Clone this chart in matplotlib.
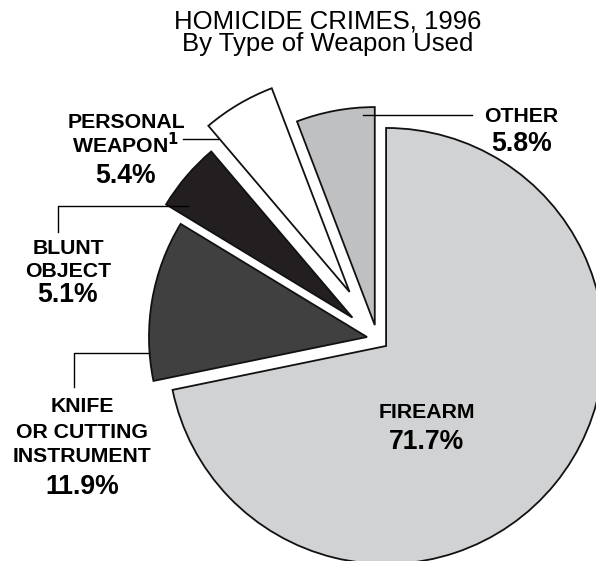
import matplotlib
matplotlib.use("Agg")
import matplotlib.pyplot as plt

# Data (counterclockwise from 12 o'clock)
categories = ["OTHER", "PERSONAL WEAPON", "BLUNT OBJECT", "KNIFE OR CUTTING INSTRUMENT", "FIREARM"]
values = [5.8, 5.4, 5.1, 11.9, 71.7]
explode_frac = [0.064, 0.25, 0.15, 0.048, 0.052]
colors = ["#bfc0c2", "#ffffff", "#231f20", "#404040", "#d1d2d4"]

W, H = 596, 561
fig = plt.figure(figsize=(W / 100, H / 100), dpi=100)
ax = fig.add_axes([0, 0, 1, 1])

cx, cy = 377.3, H - 338.8
R = 218
ax.pie(values, explode=[e * R for e in explode_frac], colors=colors, startangle=90,
       counterclock=True, center=(cx, cy), radius=R,
       wedgeprops=dict(edgecolor="#111111", linewidth=1.3), normalize=True)
ax.set_xlim(0, W)
ax.set_ylim(0, H)
ax.set_aspect("equal")
ax.axis("off")

def Y(y):
    return H - y

fam = ["Liberation Sans", "DejaVu Sans"]
# Title
ax.text(327.5, Y(21), "HOMICIDE CRIMES, 1996", ha="center", va="center",
        fontsize=18.5, family=fam)
ax.text(327.5, Y(43.5), "By Type of Weapon Used", ha="center", va="center",
        fontsize=18.5, family=fam)

lab = dict(ha="center", va="center", fontsize=15.3, fontweight="bold", family=fam)
pct = dict(ha="center", va="center", fontsize=19.2, fontweight="bold", family=fam)

# Personal weapon
ax.text(126, Y(122), "PERSONAL", **lab)
ax.text(126, Y(145), "WEAPON$^\\mathbf{1}$", **lab)
ax.text(125.5, Y(176), "5.4%", **pct)
ax.plot([183, 218], [Y(139), Y(139)], color="black", lw=1)

# Blunt object
ax.text(68, Y(248), "BLUNT", **lab)
ax.text(68, Y(271), "OBJECT", **lab)
ax.text(68, Y(295), "5.1%", **pct)
ax.plot([58, 58, 188], [Y(232), Y(206), Y(206)], color="black", lw=1)

# Knife
ax.text(82, Y(407), "KNIFE", **lab)
ax.text(82, Y(432), "OR CUTTING", **lab)
ax.text(82, Y(457), "INSTRUMENT", **lab)
ax.text(82, Y(487), "11.9%", **pct)
ax.plot([74, 74, 148], [Y(387), Y(353), Y(353)], color="black", lw=1)

# Other
ax.text(521, Y(116), "OTHER", **lab)
ax.text(522, Y(144), "5.8%", **pct)
ax.plot([363, 472], [Y(115), Y(115)], color="black", lw=1)

# Firearm
ax.text(427, Y(412), "FIREARM", **lab)
ax.text(426, Y(442), "71.7%", **pct)

fig.savefig("out.png", dpi=100, facecolor="white")
